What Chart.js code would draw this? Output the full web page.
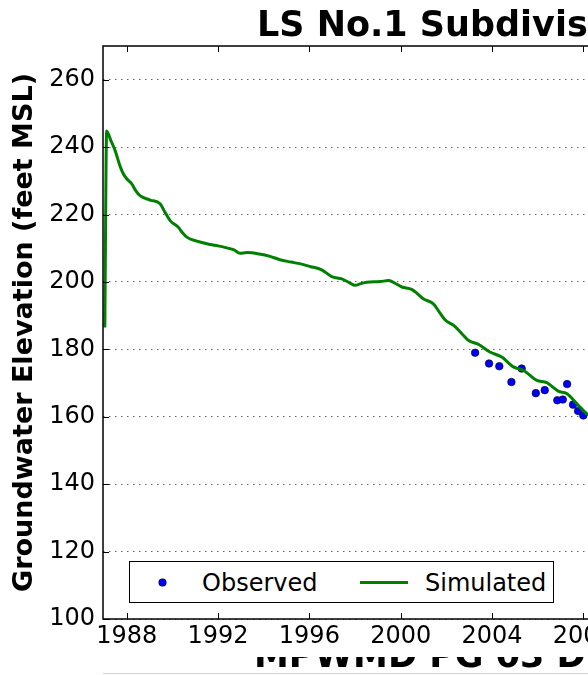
<!DOCTYPE html>
<html><head><meta charset="utf-8">
<script src="https://cdn.jsdelivr.net/npm/chart.js@4.4.0/dist/chart.umd.min.js"></script>
<style>
html,body{margin:0;padding:0;background:#fff;overflow:hidden;width:588px;height:675px;}
#wrap{position:absolute;left:0;top:0;width:588px;height:675px;overflow:hidden;background:#fff;}
#cv{position:absolute;left:0;top:0;}
.t{position:absolute;font-family:"DejaVu Sans";white-space:nowrap;color:#000;}
</style></head><body>
<div id="wrap">
<canvas id="cv" width="820" height="675"></canvas>
<div class="t" style="left:257px;top:7.4px;font-size:35px;line-height:35px;font-weight:bold;">LS No.1 Subdivision</div>
<div style="position:absolute;left:129px;top:561px;width:425px;height:42px;border:1px solid #000;box-sizing:border-box;background:#fff;"></div>
<div style="position:absolute;left:158.5px;top:578.5px;width:7px;height:7px;border-radius:50%;background:#0000ff;box-shadow:0 0 0 0.5px #000;"></div>
<div class="t" style="left:202px;top:571px;font-size:24px;line-height:24px;">Observed</div>
<div style="position:absolute;left:360px;top:580.5px;width:48px;height:3px;background:#008000;"></div>
<div class="t" style="left:425px;top:571px;font-size:24px;line-height:24px;">Simulated</div>
<div style="position:absolute;left:0;top:657px;width:588px;height:16px;overflow:hidden;"><div class="t" style="left:254px;top:-18.6px;font-size:35px;line-height:35px;font-weight:bold;">MPWMD PG 03 D</div></div>
<div style="position:absolute;left:103px;top:673px;width:485px;height:1px;background:#d0d0d0;"></div>
</div>
<script>
const xTicks = [1988, 1992, 1996, 2000, 2004, 2008, 2012, 2016];
const yTicks = [100, 120, 140, 160, 180, 200, 220, 240, 260];

const simYears = [1987.04, 1987.12, 1987.30, 1987.49, 1987.70, 1987.85, 1988.00, 1988.22, 1988.40, 1988.58,
  1989.02, 1989.46, 1989.65, 1989.90, 1990.26, 1990.45, 1990.63, 1991.07, 1991.43, 1991.65,
  1992.00, 1992.38, 1992.70, 1992.96, 1993.26, 1993.80, 1994.28, 1994.71, 1995.20, 1995.70,
  1996.03, 1996.54, 1996.98, 1997.42, 1997.75, 1998.00, 1998.25, 1998.51, 1999.10, 1999.46,
  1999.68, 2000.05, 2000.48, 2000.75, 2000.99, 2001.43, 2001.70, 2001.94, 2002.36, 2002.70,
  2002.96, 2003.40, 2003.91, 2004.43, 2004.93, 2005.37, 2005.96, 2006.40, 2006.90, 2007.27,
  2007.78, 2008.15, 2008.30];
const simValues = [186.5, 244.8, 242.0, 239.0, 234.5, 232.1, 230.6, 229.1, 227.0, 225.6,
  224.3, 223.2, 221.0, 218.2, 216.2, 214.5, 213.3, 212.1, 211.5, 211.1,
  210.7, 210.1, 209.5, 208.5, 208.7, 208.3, 207.6, 206.6, 205.9, 205.2,
  204.6, 203.6, 201.6, 200.9, 199.8, 199.0, 199.5, 199.9, 200.1, 200.4,
  199.9, 198.5, 197.8, 196.4, 195.0, 193.5, 191.0, 188.8, 186.9, 184.5,
  182.7, 181.5, 179.2, 177.7, 174.8, 173.8, 170.8, 170.1, 167.6, 166.9,
  163.4, 160.9, 160.3];

const obsYears = [2003.26, 2003.87, 2004.32, 2004.85, 2005.30, 2005.92, 2006.31, 2006.86, 2007.10, 2007.29, 2007.55, 2007.77, 2008.00];
const obsValues = [179.0, 175.8, 175.0, 170.3, 174.3, 167.0, 167.9, 164.9, 165.1, 169.7, 163.6, 161.7, 160.4];

const framePlugin = {
  id: 'frame',
  afterDraw(chart) {
    const {ctx, chartArea: a, scales: {x, y}} = chart;
    ctx.save();
    ctx.strokeStyle = '#000';
    ctx.lineWidth = 1;
    ctx.beginPath();
    xTicks.forEach(v => {
      const px = Math.round(x.getPixelForValue(v)) + 0.5;
      ctx.moveTo(px, a.bottom); ctx.lineTo(px, a.bottom - 6);
      ctx.moveTo(px, a.top); ctx.lineTo(px, a.top + 6);
    });
    yTicks.forEach(v => {
      const py = Math.round(y.getPixelForValue(v)) + 0.5;
      ctx.moveTo(a.left, py); ctx.lineTo(a.left + 6, py);
      ctx.moveTo(a.right, py); ctx.lineTo(a.right - 6, py);
    });
    ctx.stroke();
    ctx.lineWidth = 1.5;
    ctx.strokeRect(a.left, a.top, a.right - a.left, a.bottom - a.top);
    ctx.restore();
  }
};

const tickFont = {family: 'DejaVu Sans', size: 24};

new Chart(document.getElementById('cv'), {
  type: 'scatter',
  data: {
    datasets: [
      {
        label: 'Simulated',
        data: simYears.map((v, i) => ({x: v, y: simValues[i]})),
        showLine: true,
        borderColor: '#008000',
        borderWidth: 3,
        pointRadius: 0,
        cubicInterpolationMode: 'monotone',
        order: 0
      },
      {
        label: 'Observed',
        data: obsYears.map((v, i) => ({x: v, y: obsValues[i]})),
        backgroundColor: '#0000ff',
        borderColor: '#000',
        borderWidth: 0.6,
        pointRadius: 3.8,
        order: 1
      }
    ]
  },
  options: {
    responsive: false,
    animation: false,
    devicePixelRatio: 1,
    layout: {padding: {top: 46, right: 23, left: 0, bottom: 0}},
    plugins: {legend: {display: false}, tooltip: {enabled: false}, title: {display: false}},
    scales: {
      x: {
        type: 'linear',
        min: 1986.96,
        max: 2017.36,
        afterBuildTicks: s => { s.ticks = xTicks.map(v => ({value: v})); },
        afterFit: s => { s.height = 56; },
        grid: {display: false, drawTicks: false},
        border: {display: false},
        ticks: {font: tickFont, color: '#000', padding: 3, maxRotation: 0, autoSkip: false, callback: v => String(v)}
      },
      y: {
        min: 100,
        max: 270,
        afterBuildTicks: s => { s.ticks = yTicks.map(v => ({value: v})); },
        afterFit: s => { s.width = 103; },
        grid: {color: 'rgba(0,0,0,0.6)', lineWidth: 1, drawTicks: false},
        border: {display: false, dash: [1.5, 4.5]},
        ticks: {font: tickFont, color: '#000', padding: 8, callback: v => String(v)},
        title: {
          display: true,
          text: 'Groundwater Elevation (feet MSL)',
          font: {family: 'DejaVu Sans', size: 27, weight: 'bold'},
          color: '#000',
          padding: {top: 9, bottom: 0}
        }
      }
    }
  },
  plugins: [framePlugin]
});
</script>
</body></html>
